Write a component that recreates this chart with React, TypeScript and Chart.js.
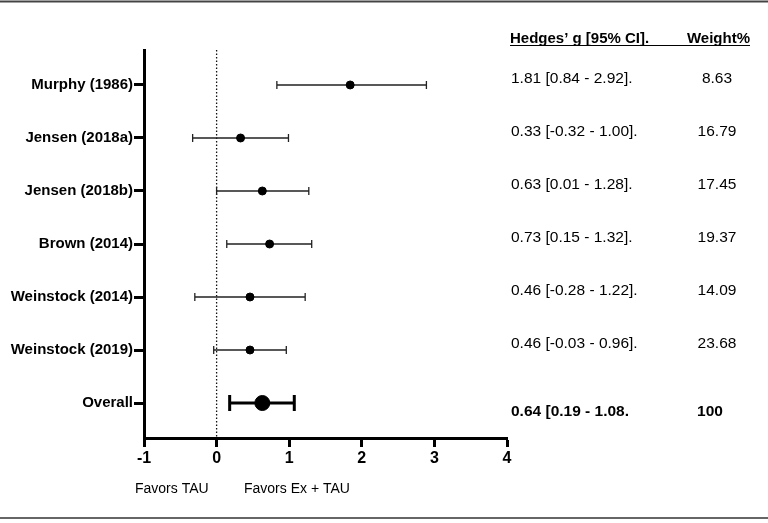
import React, { useEffect, useRef } from "react";
import { Chart, registerables } from "chart.js";

Chart.register(...registerables);

const FONT = "'Liberation Sans', Arial, Helvetica, sans-serif";

const studies = [
  "Murphy (1986)",
  "Jensen (2018a)",
  "Jensen (2018b)",
  "Brown (2014)",
  "Weinstock (2014)",
  "Weinstock (2019)",
  "Overall",
];
const estimates = [1.84, 0.33, 0.63, 0.73, 0.46, 0.46, 0.63];
const lowerCI = [0.83, -0.33, 0.0, 0.14, -0.3, -0.04, 0.18];
const upperCI = [2.89, 0.99, 1.27, 1.31, 1.22, 0.96, 1.07];
const ciLabels = [
  "1.81 [0.84 - 2.92].",
  "0.33 [-0.32 - 1.00].",
  "0.63 [0.01 - 1.28].",
  "0.73 [0.15 - 1.32].",
  "0.46 [-0.28 - 1.22].",
  "0.46 [-0.03 - 0.96].",
  "0.64 [0.19 - 1.08.",
];
const weights = ["8.63", "16.79", "17.45", "19.37", "14.09", "23.68", "100"];
const xMin = -1;
const xMax = 4;
const headerLeft = "Hedges\u2019 g [95% CI].";
const headerRight = "Weight%";
const bottomLabels = ["Favors TAU", "Favors Ex + TAU"];

const forestPlugin = {
  id: "forest",
  beforeDatasetsDraw(chart: any) {
    const { ctx, chartArea, scales } = chart;
    const x = scales.x;
    const y = scales.y;
    ctx.save();
    // dotted zero line
    const x0 = x.getPixelForValue(0);
    ctx.strokeStyle = "#111";
    ctx.lineWidth = 1.3;
    ctx.setLineDash([1.5, 2]);
    ctx.beginPath();
    ctx.moveTo(x0, chartArea.top);
    ctx.lineTo(x0, chartArea.bottom);
    ctx.stroke();
    ctx.setLineDash([]);
    // error bars
    studies.forEach((_, i) => {
      const overall = i === studies.length - 1;
      const yy = y.getPixelForValue(i + 1);
      const xl = x.getPixelForValue(lowerCI[i]);
      const xr = x.getPixelForValue(upperCI[i]);
      const cap = overall ? 8 : 4;
      ctx.strokeStyle = overall ? "#000" : "#222";
      ctx.lineWidth = overall ? 3 : 1.3;
      ctx.beginPath();
      ctx.moveTo(xl, yy);
      ctx.lineTo(xr, yy);
      ctx.moveTo(xl, yy - cap);
      ctx.lineTo(xl, yy + cap);
      ctx.moveTo(xr, yy - cap);
      ctx.lineTo(xr, yy + cap);
      ctx.stroke();
    });
    ctx.restore();
  },
  afterDraw(chart: any) {
    const { ctx, scales, width } = chart;
    const y = scales.y;
    ctx.save();
    // frame lines
    ctx.strokeStyle = "#444";
    ctx.lineWidth = 2;
    ctx.beginPath();
    ctx.moveTo(0, 1.5);
    ctx.lineTo(width, 1.5);
    ctx.stroke();
    ctx.strokeStyle = "#666";
    ctx.beginPath();
    ctx.moveTo(0, 518);
    ctx.lineTo(width, 518);
    ctx.stroke();

    // header
    ctx.fillStyle = "#000";
    ctx.textBaseline = "alphabetic";
    ctx.font = `bold 15px ${FONT}`;
    ctx.textAlign = "left";
    ctx.fillText(headerLeft, 510, 43);
    ctx.textAlign = "right";
    ctx.fillText(headerRight, 750, 43);
    ctx.lineWidth = 1;
    ctx.strokeStyle = "#000";
    ctx.beginPath();
    ctx.moveTo(510, 45.5);
    ctx.lineTo(750, 45.5);
    ctx.stroke();

    // rows
    ctx.textBaseline = "middle";
    studies.forEach((_, i) => {
      const overall = i === studies.length - 1;
      const yy = y.getPixelForValue(i + 1) + (overall ? 9 : -6);
      ctx.font = `${overall ? "bold " : ""}15.5px ${FONT}`;
      ctx.textAlign = "left";
      ctx.fillText(ciLabels[i], 511, yy);
      ctx.textAlign = "center";
      ctx.fillText(weights[i], overall ? 710 : 717, yy);
    });

    // bottom labels
    ctx.font = `14px ${FONT}`;
    ctx.textAlign = "left";
    ctx.fillText(bottomLabels[0], 135, 489);
    ctx.fillText(bottomLabels[1], 244, 489);
    ctx.restore();
  },
};

export default function App() {
  const ref = useRef<HTMLCanvasElement | null>(null);
  useEffect(() => {
    if (!ref.current) return;
    const chart = new Chart(ref.current, {
      type: "scatter",
      data: {
        datasets: [
          {
            data: estimates.map((e, i) => ({ x: e, y: i + 1 })),
            backgroundColor: "#000",
            borderColor: "#000",
            pointRadius: studies.map((_, i) => (i === studies.length - 1 ? 7.5 : 4)),
            pointHoverRadius: studies.map((_, i) => (i === studies.length - 1 ? 7.5 : 4)),
          },
        ],
      },
      options: {
        animation: false,
        responsive: true,
        maintainAspectRatio: false,
        layout: { padding: { top: 50, right: 261, left: 0, bottom: 0 } },
        plugins: { legend: { display: false }, tooltip: { enabled: false } },
        scales: {
          x: {
            type: "linear",
            min: xMin,
            max: xMax,
            ticks: {
              stepSize: 1,
              color: "#000",
              padding: 2,
              font: { family: FONT, size: 16, weight: "bold" },
              callback: (v: any) => String(v),
            },
            grid: {
              drawOnChartArea: false,
              drawTicks: true,
              tickLength: 9,
              tickWidth: 3,
              tickColor: "#000",
            },
            border: { display: true, width: 3, color: "#000" },
            afterFit: (s: any) => {
              s.height = 85;
            },
          },
          y: {
            type: "linear",
            reverse: true,
            min: 0.34,
            max: 7.66,
            afterBuildTicks: (s: any) => {
              s.ticks = studies.map((_, i) => ({ value: i + 1 }));
            },
            ticks: {
              color: "#000",
              padding: 1,
              autoSkip: false,
              font: { family: FONT, size: 15, weight: "bold" },
              callback: (v: any) => studies[Number(v) - 1] ?? "",
            },
            grid: {
              drawOnChartArea: false,
              drawTicks: true,
              tickLength: 10,
              tickWidth: 3,
              tickColor: "#000",
            },
            border: { display: true, width: 3, color: "#000" },
            afterFit: (s: any) => {
              s.width = 144;
            },
          },
        },
      },
      plugins: [forestPlugin],
    });
    return () => chart.destroy();
  }, []);
  return (
    <div
      style={{
        position: "fixed",
        left: 0,
        top: 0,
        width: 768,
        height: 523,
        background: "#fff",
      }}
    >
      <canvas ref={ref} />
    </div>
  );
}
